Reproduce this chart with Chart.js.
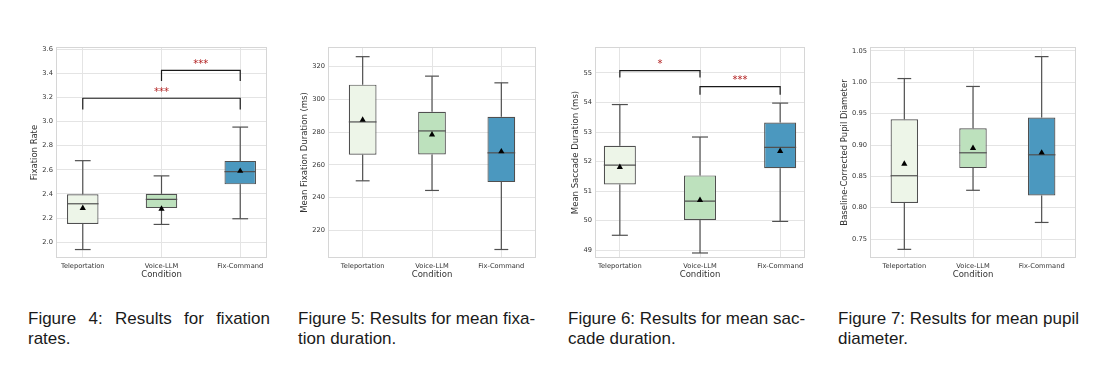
<!DOCTYPE html>
<html>
<head>
<meta charset="utf-8">
<script src="https://cdn.jsdelivr.net/npm/chart.js@4.4.1/dist/chart.umd.min.js"></script>
<style>
  body { margin:0; background:#fff; width:1105px; height:365px; overflow:hidden; position:relative; }
  canvas { position:absolute; top:40px; }
  .cap { position:absolute; top:309px; font-family:"Liberation Sans", Arial, sans-serif; font-size:17px; line-height:20.3px; color:#1a1a1a; white-space:nowrap; }
  #cap4 { white-space:normal; width:242px; text-align:justify; }
</style>
</head>
<body>
<canvas id="c1" width="255" height="245" style="left:20px"></canvas>
<canvas id="c2" width="258" height="245" style="left:285px"></canvas>
<canvas id="c3" width="258" height="245" style="left:555px"></canvas>
<canvas id="c4" width="258" height="245" style="left:825px"></canvas>

<div class="cap" id="cap4" style="left:28px">Figure 4: Results for fixation rates.</div>
<div class="cap" style="left:298px">Figure 5: Results for mean fixa-<br>tion duration.</div>
<div class="cap" style="left:568px">Figure 6: Results for mean sac-<br>cade duration.</div>
<div class="cap" style="left:838px">Figure 7: Results for mean pupil<br>diameter.</div>

<script>
// categorías y colores
const categories = ['Teleportation', 'Voice-LLM', 'Fix-Command'];
const boxColors = ['#edf5e8', '#bde1bd', '#4b98bf'];

// Figura 4 - tasa de fijación
const rateLow  = [1.94, 2.148, 2.195];
const rateQ1   = [2.151, 2.283, 2.48];
const rateMed  = [2.319, 2.356, 2.585];
const rateQ3   = [2.398, 2.401, 2.674];
const rateHigh = [2.676, 2.55, 2.954];
const rateMean = [2.283, 2.277, 2.59];
const rateSig  = [
  { from: 1, to: 2, top: 3.424, drop: 3.336, label: '***' },
  { from: 0, to: 2, top: 3.193, drop: 3.10, label: '***' }
];

// Figura 5 - duración media de fijación
const fixLow  = [250.2, 244.3, 208.2];
const fixQ1   = [266.1, 266.3, 249.4];
const fixMed  = [286.2, 280.7, 267.3];
const fixQ3   = [309.0, 292.4, 289.4];
const fixHigh = [326.1, 314.2, 310.1];
const fixMean = [287.4, 278.4, 268.1];

// Figura 6 - duración media de sacada
const sacLow  = [49.5, 48.9, 49.97];
const sacQ1   = [51.22, 50.02, 51.77];
const sacMed  = [51.88, 50.66, 52.48];
const sacQ3   = [52.53, 51.53, 53.32];
const sacHigh = [53.93, 52.83, 53.98];
const sacMean = [51.81, 50.69, 52.35];
const sacSig  = [
  { from: 0, to: 1, top: 55.08, drop: 54.85, label: '*' },
  { from: 1, to: 2, top: 54.54, drop: 54.26, label: '***' }
];

// Figura 7 - diámetro pupilar
const pupLow  = [0.7336, 0.8278, 0.7765];
const pupQ1   = [0.8077, 0.8632, 0.8194];
const pupMed  = [0.851, 0.8876, 0.8844];
const pupQ3   = [0.941, 0.9267, 0.9437];
const pupHigh = [1.006, 0.9934, 1.041];
const pupMean = [0.870, 0.895, 0.8876];

const tickFont = { family: 'DejaVu Sans', size: 6.7 };
const titleFont = { family: 'DejaVu Sans', size: 8.5 };

// bigotes, medianas, marco y corchetes de significancia
const boxExtras = {
  id: 'boxExtras',
  beforeDatasetsDraw(chart) {
    const a = chart.chartArea, ctx = chart.ctx;
    ctx.save();
    ctx.strokeStyle = '#d6d6d6';
    ctx.lineWidth = 1;
    ctx.strokeRect(a.left + 0.5, a.top + 0.5, a.right - a.left - 1, a.bottom - a.top - 1);
    ctx.restore();
  },
  afterDatasetDraw(chart, args, opts) {
    if (args.meta.type !== 'bar') return;
    const y = chart.scales.y, ctx = chart.ctx, s = opts.stats;
    const seg = (x1, y1, x2, y2) => { ctx.beginPath(); ctx.moveTo(x1, y1); ctx.lineTo(x2, y2); ctx.stroke(); };
    ctx.save();
    ctx.strokeStyle = '#505050';
    ctx.lineWidth = 1.2;
    args.meta.data.forEach((bar, i) => {
      const cx = bar.x, half = bar.width / 2;
      const yLow = y.getPixelForValue(s.low[i]);
      const yHigh = y.getPixelForValue(s.high[i]);
      seg(cx, y.getPixelForValue(s.q3[i]), cx, yHigh);
      seg(cx, y.getPixelForValue(s.q1[i]), cx, yLow);
      seg(cx - half / 2, yHigh, cx + half / 2, yHigh);
      seg(cx - half / 2, yLow, cx + half / 2, yLow);
      const ym = y.getPixelForValue(s.med[i]);
      seg(cx - half, ym, cx + half, ym);
    });
    ctx.restore();
  },
  afterDatasetsDraw(chart, args, opts) {
    if (!opts.sig) return;
    const {x, y} = chart.scales, ctx = chart.ctx;
    ctx.save();
    opts.sig.forEach(b => {
      const x1 = x.getPixelForValue(b.from), x2 = x.getPixelForValue(b.to);
      const yt = y.getPixelForValue(b.top), yd = y.getPixelForValue(b.drop);
      ctx.strokeStyle = '#1a1a1a';
      ctx.lineWidth = 1.2;
      ctx.beginPath();
      ctx.moveTo(x1, yd); ctx.lineTo(x1, yt); ctx.lineTo(x2, yt); ctx.lineTo(x2, yd);
      ctx.stroke();
      ctx.fillStyle = '#b22222';
      ctx.font = '10px "DejaVu Sans"';
      ctx.textAlign = 'center';
      ctx.textBaseline = 'middle';
      ctx.fillText(b.label, (x1 + x2) / 2, yt - 6);
    });
    ctx.restore();
  }
};

function boxChart(id, p) {
  const stats = { low: p.low, q1: p.q1, med: p.med, q3: p.q3, high: p.high };
  return new Chart(document.getElementById(id), {
    type: 'bar',
    data: {
      datasets: [
        {
          type: 'scatter',
          data: p.mean.map((v, i) => ({ x: i, y: v })),
          pointStyle: 'triangle',
          radius: 3.6,
          backgroundColor: '#000',
          borderColor: '#000',
          borderWidth: 0,
          order: 0
        },
        {
          type: 'bar',
          data: p.q1.map((v, i) => ({ x: i, y: [v, p.q3[i]] })),
          backgroundColor: boxColors,
          borderColor: '#505050',
          borderWidth: 1.2,
          borderSkipped: false,
          barPercentage: 0.4,
          categoryPercentage: 1.0,
          order: 1
        }
      ]
    },
    options: {
      responsive: false,
      animation: false,
      events: [],
      layout: { padding: { top: 6, right: p.padRight, left: 0, bottom: 0 } },
      plugins: {
        legend: { display: false },
        tooltip: { enabled: false },
        boxExtras: { stats: stats, sig: p.sig }
      },
      scales: {
        x: {
          type: 'linear',
          offset: false,
          min: p.xMin, max: p.xMax,
          afterFit: s => { s.height = 27; },
          afterBuildTicks: s => { s.ticks = [0, 1, 2].map(v => ({ value: v })); },
          grid: { color: '#e4e4e4', drawTicks: false, offset: false },
          border: { display: false },
          ticks: {
            padding: 4, autoSkip: false, maxRotation: 0,
            font: tickFont, color: '#333',
            callback: v => categories[v] || ''
          },
          title: { display: true, text: 'Condition', font: titleFont, color: '#333', padding: { top: 0, bottom: 5.4 } }
        },
        y: {
          min: p.yMin, max: p.yMax,
          afterFit: s => { s.width = p.yWidth; },
          grid: { color: '#e4e4e4', drawTicks: false },
          border: { display: false },
          ticks: {
            stepSize: p.yStep, includeBounds: false, padding: 3,
            font: tickFont, color: '#333',
            callback: v => v.toFixed(p.dec)
          },
          title: { display: true, text: p.yTitle, font: titleFont, color: '#333', padding: { top: p.titlePad, bottom: 0 } }
        }
      }
    },
    plugins: [boxExtras]
  });
}

boxChart('c1', {
  low: rateLow, q1: rateQ1, med: rateMed, q3: rateQ3, high: rateHigh, mean: rateMean, sig: rateSig,
  yMin: 1.87, yMax: 3.617, yStep: 0.2, dec: 1, xMin: -0.34, xMax: 2.34,
  yTitle: 'Fixation Rate', yWidth: 36, titlePad: 9.9, padRight: 8
});
boxChart('c2', {
  low: fixLow, q1: fixQ1, med: fixMed, q3: fixQ3, high: fixHigh, mean: fixMean, sig: null,
  yMin: 203, yMax: 332, yStep: 20, dec: 0, xMin: -0.5, xMax: 2.5,
  yTitle: 'Mean Fixation Duration (ms)', yWidth: 43, titlePad: 14.9, padRight: 7
});
boxChart('c3', {
  low: sacLow, q1: sacQ1, med: sacMed, q3: sacQ3, high: sacHigh, mean: sacMean, sig: sacSig,
  yMin: 48.73, yMax: 55.88, yStep: 1, dec: 0, xMin: -0.31, xMax: 2.31,
  yTitle: 'Mean Saccade Duration (ms)', yWidth: 40, titlePad: 15.6, padRight: 8
});
boxChart('c4', {
  low: pupLow, q1: pupQ1, med: pupMed, q3: pupQ3, high: pupHigh, mean: pupMean, sig: null,
  yMin: 0.7198, yMax: 1.0563, yStep: 0.05, dec: 2, xMin: -0.5, xMax: 2.5,
  yTitle: 'Baseline-Corrected Pupil Diameter', yWidth: 45, titlePad: 14.9, padRight: 7
});
</script>
</body>
</html>
